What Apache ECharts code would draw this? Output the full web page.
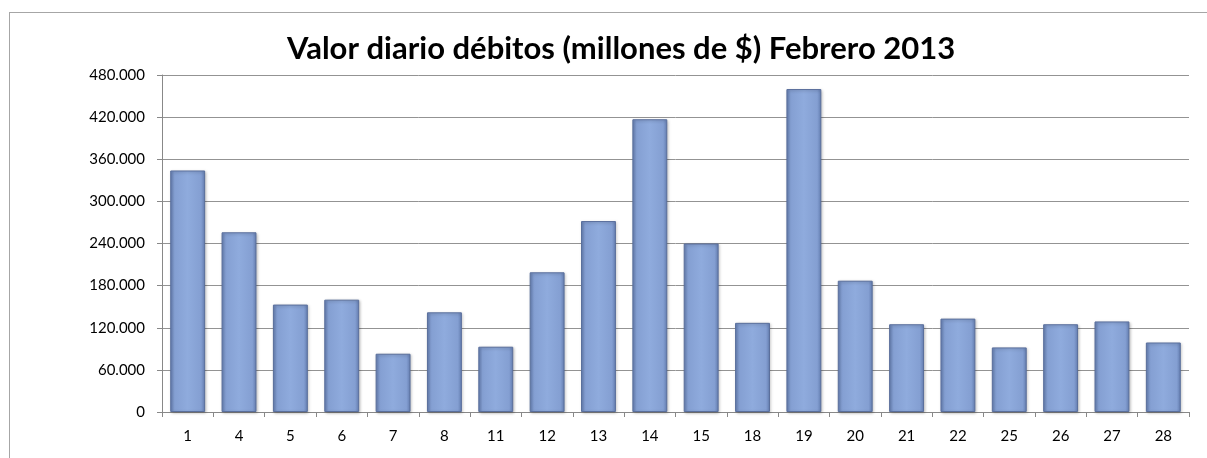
<!DOCTYPE html>
<html>
<head>
<meta charset="utf-8">
<script src="https://cdn.jsdelivr.net/npm/echarts@6/dist/echarts.min.js"></script>
<style>
html,body{margin:0;padding:0;background:#fff;}
#frame{position:absolute;left:9px;top:12px;width:1220px;height:470px;border:1px solid #a6a6a6;box-sizing:border-box;}
#chart{position:absolute;left:0;top:0;width:1207px;height:458px;}
</style>
</head>
<body>
<div id="frame"></div>
<div id="chart"></div>
<script>
var days = ['1','4','5','6','7','8','11','12','13','14','15','18','19','20','21','22','25','26','27','28'];
var valores = [344000,256000,153000,160000,83000,142000,93000,199000,272000,417000,240000,127000,460000,187000,125000,133000,92000,125000,129000,99000];
var titulo = 'Valor diario débitos (millones de $) Febrero 2013';

var chart = echarts.init(document.getElementById('chart'));
chart.setOption({
  backgroundColor: 'transparent',
  animation: false,
  title: {
    text: titulo,
    left: 282,
    top: 28,
    textStyle: {fontFamily: 'Lato', fontWeight: 'bold', fontSize: 31, color: '#000'}
  },
  grid: {left: 162, right: 18, top: 75, bottom: 46},
  xAxis: {
    type: 'category',
    data: days,
    axisLine: {lineStyle: {color: '#888', width: 1}},
    axisTick: {show: true, length: 5, lineStyle: {color: '#888'}},
    axisLabel: {color: '#000', fontFamily: 'Lato', fontSize: 15, margin: 17}
  },
  yAxis: {
    type: 'value',
    min: 0,
    max: 480000,
    interval: 60000,
    axisLine: {show: true, lineStyle: {color: '#888'}},
    axisTick: {show: true, length: 5, lineStyle: {color: '#888'}},
    splitLine: {lineStyle: {color: '#939393', width: 1}},
    axisLabel: {
      color: '#000', fontFamily: 'Lato', fontSize: 15, margin: 17,
      formatter: function (v) { return String(v).replace(/\B(?=(\d{3})+(?!\d))/g, '.'); }
    }
  },
  series: [{
    type: 'bar',
    data: valores,
    barWidth: '68%',
    itemStyle: {
      borderColor: '#5a6f9c',
      borderWidth: 1,
      color: {
        type: 'linear', x: 0, y: 0, x2: 1, y2: 0,
        colorStops: [
          {offset: 0, color: '#6680b4'},
          {offset: 0.12, color: '#849fd2'},
          {offset: 0.5, color: '#8fabdd'},
          {offset: 0.88, color: '#849fd2'},
          {offset: 1, color: '#6680b4'}
        ]
      },
      shadowColor: 'rgba(0,0,0,0.25)',
      shadowBlur: 3,
      shadowOffsetX: 1,
      shadowOffsetY: 1
    }
  }]
});
</script>
</body>
</html>
